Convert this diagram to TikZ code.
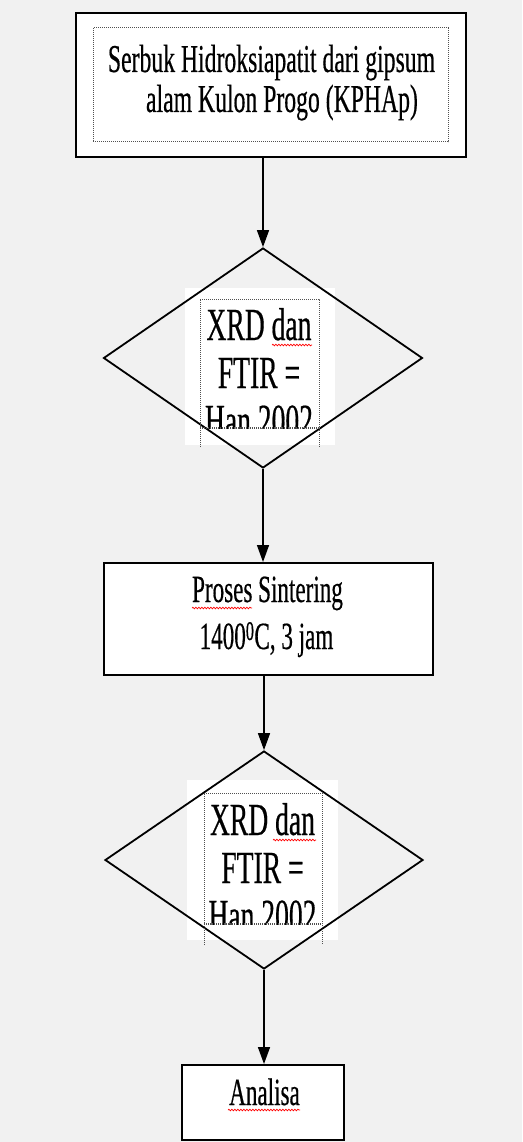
\documentclass[tikz,border=0pt]{standalone}
\usepackage{fontspec}
\setmainfont{Liberation Serif}[FakeStretch=0.6,UprightFeatures={FakeBold=0.4}]
\usetikzlibrary{arrows.meta,shapes.geometric,decorations.pathmorphing}
\definecolor{bg}{RGB}{241,241,241}
\definecolor{dotc}{RGB}{80,80,80}
\begin{document}
\begin{tikzpicture}[x=1pt,y=-1pt,
  boxA/.style={draw=black, line width=2.4pt, fill=white, rectangle, inner sep=0pt},
  boxB/.style={draw=black, line width=2pt, fill=white, rectangle, inner sep=0pt},
  dia/.style={draw=black, line width=1.8pt, diamond, inner sep=0pt},
  frame/.style={draw=dotc, line width=1pt, densely dotted},
  conn/.style={draw=black, line width=1.5pt, -{Triangle[length=17pt,width=12pt]}},
  tA/.style={inner sep=0pt, anchor=base, font=\fontsize{39.5}{40}\selectfont},
  tD/.style={inner sep=0pt, anchor=base, font=\fontsize{46}{48}\selectfont},
  tP/.style={inner sep=0pt, anchor=base, font=\fontsize{38.5}{40}\selectfont},
  squig/.style={draw=red, line width=0.7pt, decorate, decoration={snake, segment length=3pt, amplitude=0.8pt}}
]
\fill[bg] (0,0) rectangle (522,1142);
\useasboundingbox (0,0) rectangle (522,1142);

% top box
\node[boxA, minimum width=390pt, minimum height=144pt] (top) at (271,85) {};
\draw[frame] (93,28) rectangle (448,142);
\node[tA] (t1) at (271.5,72) {Serbuk Hidroksiapatit dari gipsum};
\node[tA] (t2) at (282,112) {alam Kulon Progo (KPHAp)};

% diamond 1
\fill[white] (185,288) rectangle (335,445);
\node[dia, minimum width=319pt, minimum height=220pt] (d1) at (263,358) {};
\begin{scope}
\clip (200,299) rectangle (319,428);
\node[tD] (d1a) at (259,340) {XRD dan};
\node[tD] (d1b) at (259,388) {FTIR =};
\node[tD] (d1c) at (259,436) {Han 2002};
\end{scope}
\draw[frame] (200,447) -- (200,299) -- (319,299) -- (319,447);
\draw[frame, line width=1.5pt] (200,428) -- (319,428);
\draw[squig] (272,345) -- (312,345);

% sintering box
\node[boxB, minimum width=329pt, minimum height=112pt] (p) at (268.5,619) {};
\node[tP] (p1) at (267.5,602) {Proses Sintering};
\node[tP] (p2) at (266.5,649) {1400\textsuperscript{0}C, 3 jam};
\draw[squig] (192,608) -- (252,608);

% diamond 2
\fill[white] (187,780) rectangle (338,940);
\node[dia, minimum width=318pt, minimum height=218pt] (d2) at (264,860) {};
\begin{scope}
\clip (204,793) rectangle (322,924);
\node[tD] (d2a) at (262.5,835) {XRD dan};
\node[tD] (d2b) at (262.5,883) {FTIR =};
\node[tD] (d2c) at (262.5,931) {Han 2002};
\end{scope}
\draw[frame] (204,945) -- (204,793) -- (322,793) -- (322,945);
\draw[frame, line width=1.5pt] (204,924) -- (322,924);
\draw[squig] (273,840) -- (316,840);

% analisa box
\node[boxB, minimum width=162pt, minimum height=75pt] (a) at (263,1102.5) {};
\node[tP] (a1) at (264.5,1105) {Analisa};
\draw[squig] (228,1110) -- (300,1110);

% connectors
\draw[conn] (d1.north |- top.south) -- (d1.north);
\draw[conn] (d1.south) -- (d1.south |- p.north);
\draw[conn] (d2.north |- p.south) -- (d2.north);
\draw[conn] (d2.south) -- (d2.south |- a.north);
\end{tikzpicture}
\end{document}
